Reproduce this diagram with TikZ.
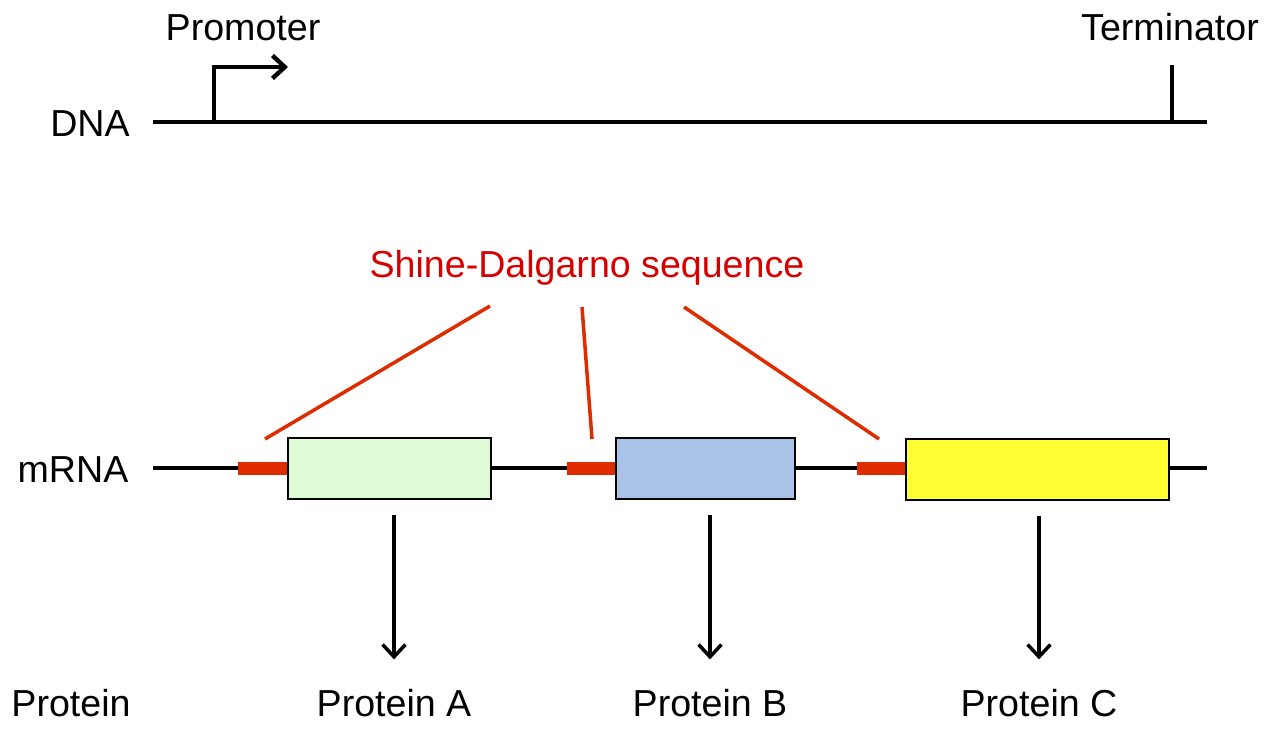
\documentclass[tikz,border=0pt]{standalone}
\usepackage{fontspec}
\setmainfont{Liberation Sans}
\usetikzlibrary{arrows.meta}
\usetikzlibrary{positioning}
\definecolor{sdred}{RGB}{222,44,0}
\definecolor{sdtext}{RGB}{214,0,0}
\definecolor{fillA}{RGB}{223,251,214}
\definecolor{fillB}{RGB}{169,195,230}
\definecolor{fillC}{RGB}{255,255,51}

\begin{document}
\begin{tikzpicture}[x=0.02cm,y=-0.02cm,
    lbl/.style={font=\fontsize{21.4}{26}\selectfont,anchor=base,inner sep=0pt},
    strand/.style={line width=2.5pt},
    rna/.style={line width=2pt},
    gene/.style={draw,line width=0.9pt,minimum height=1.22cm,inner sep=0pt},
    sdbox/.style={fill=sdred,minimum width=1cm,minimum height=0.26cm,inner sep=0pt},
    sdline/.style={draw=sdred,line width=2pt},
    prod/.style={line width=2pt,-{Straight Barb[length=7pt,width=13pt]},
                 shorten <=0.3cm,shorten >=0.58cm}]
\useasboundingbox (0,0) rectangle (1270,730);

% DNA
\coordinate (dnaL) at (153,122);
\coordinate (dnaR) at (1207,122);
\coordinate (prom) at (214,122);
\coordinate (promtip) at (288,67);
\coordinate (term) at (1172,122);
\coordinate (termtop) at (1172,65);
\draw[strand] (dnaL) -- (dnaR);
\draw[strand,-{Straight Barb[length=7pt,width=13pt]}] (prom) |- (promtip);
\draw[strand] (term) -- (termtop);

\node[lbl] (dna) at (90,136) {DNA};
\node[lbl] (promoter) at (243,40) {Promoter};
\node[lbl] (terminator) at (1170,40) {Terminator};

% mRNA
\coordinate (rnaL) at (153,468);
\coordinate (rnaR) at (1207,468);
\draw[rna] (rnaL) -- (rnaR);
\node[lbl] (mrna) at (73,482) {mRNA};

\begin{scope}[every node/.style={sdbox}]
    \node (sdA) at (263,468) {};
    \node (sdB) at (591.5,468) {};
    \node (sdC) at (881.5,468) {};
\end{scope}

\node[gene,fill=fillA,minimum width=4.06cm] (geneA) at (389.5,468.5) {};
\node[gene,fill=fillB,minimum width=3.58cm] (geneB) at (705.5,468.5) {};
\node[gene,fill=fillC,minimum width=5.26cm] (geneC) at (1037.5,469.5) {};

% Shine-Dalgarno
\node[lbl,text=sdtext] (sd) at (587,277) {Shine-Dalgarno sequence};
\coordinate (sdA1) at (490,306);
\coordinate (sdA2) at (265,439);
\coordinate (sdB1) at (582,307);
\coordinate (sdB2) at (592,439);
\coordinate (sdC1) at (684,307);
\coordinate (sdC2) at (879,439);
\path[sdline] (sdA1) -- (sdA2);
\path[sdline] (sdB1) -- (sdB2);
\path[sdline] (sdC1) -- (sdC2);

% Protein
\node[lbl] (protein) at (71,716) {Protein};
\node[lbl] (protA) at (394,716) {Protein A};
\node[lbl] (protB) at (710,716) {Protein B};
\node[lbl] (protC) at (1039,716) {Protein C};

\draw[prod] (geneA.south -| protA) -- (protA);
\draw[prod] (geneB.south -| protB) -- (protB);
\draw[prod] (geneC.south -| protC) -- (protC);
\end{tikzpicture}
\end{document}
